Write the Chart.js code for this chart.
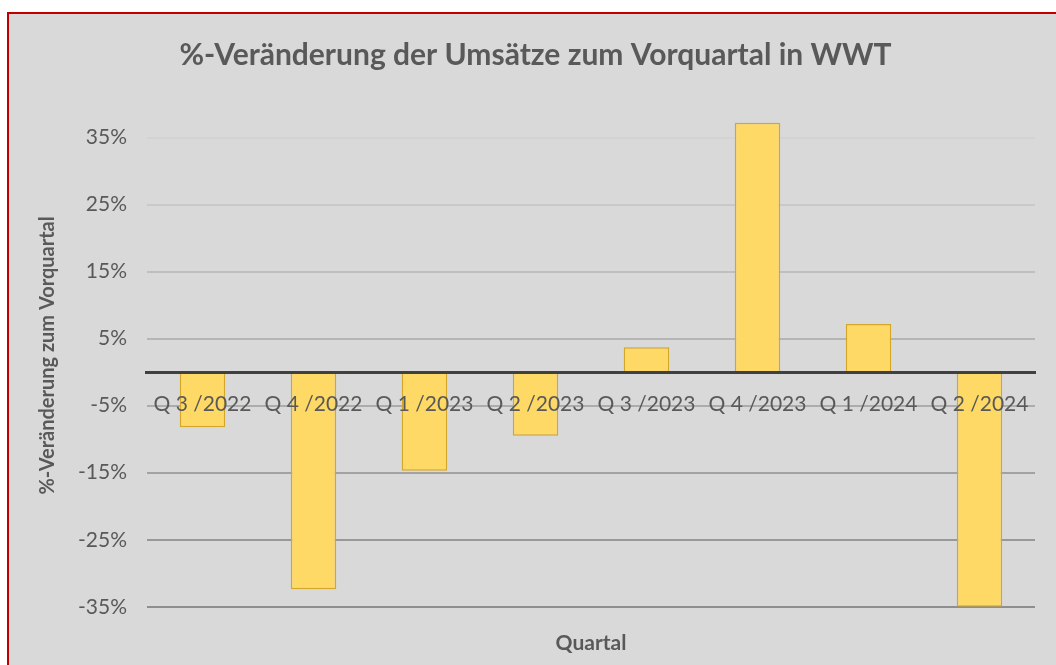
<!DOCTYPE html>
<html>
<head>
<meta charset="utf-8">
<script src="https://cdn.jsdelivr.net/npm/chart.js@4.4.0/dist/chart.umd.min.js"></script>
<style>
	html, body { margin: 0; padding: 0; background: #ffffff; overflow: hidden; }
	#frame {
		position: absolute; left: 7px; top: 12px;
		width: 1060px; height: 670px;
		border: 2px solid #c00000;
		background: #d9d9d9;
	}
	#wrap { position: absolute; left: 0; top: 0; width: 1047px; height: 651px; }
</style>
</head>
<body>
<div id="frame"><div id="wrap"><canvas id="chart-area"></canvas></div></div>
<script>
// Data
var quarters = ['Q 3 /2022', 'Q 4 /2022', 'Q 1 /2023', 'Q 2 /2023', 'Q 3 /2023', 'Q 4 /2023', 'Q 1 /2024', 'Q 2 /2024'];
var changePct = [-8.2, -32.4, -14.7, -9.5, 3.7, 37.2, 7.2, -35.0];
var yTicks = [-35, -25, -15, -5, 5, 15, 25, 35];

var textColor = '#595959';
var fontFamily = 'Lato, "Open Sans", sans-serif';

// gridlines fade from dark (bottom) to light (top)
function gridColor(ctx) {
	var v = ctx.tick ? ctx.tick.value : 0;
	var t = (v + 35) / 70;
	var c = Math.round(0x8e + t * (0xd3 - 0x8e));
	return 'rgb(' + c + ',' + c + ',' + c + ')';
}

var config = {
	type: 'bar',
	data: {
		labels: quarters,
		datasets: [{
			data: changePct,
			backgroundColor: '#ffd966',
			borderColor: '#d4a62a',
			borderWidth: 1.5,
			barPercentage: 0.41,
			categoryPercentage: 1.0
		}]
	},
	options: {
		responsive: true,
		maintainAspectRatio: false,
		animation: false,
		layout: { padding: { left: 27, right: 21, top: 23, bottom: 9 } },
		plugins: {
			legend: { display: false },
			tooltip: { enabled: false },
			title: {
				display: true,
				text: '%-Veränderung der Umsätze zum Vorquartal in WWT',
				color: textColor,
				font: { family: fontFamily, size: 30, weight: 'bold' },
				padding: { top: 0, bottom: 31 }
			}
		},
		scales: {
			y: {
				min: -35,
				max: 40,
				afterBuildTicks: function (scale) {
					scale.ticks = yTicks.map(function (v) { return { value: v }; });
				},
				ticks: {
					color: textColor,
					font: { family: fontFamily, size: 21 },
					padding: 20,
					callback: function (v) { return v + '%'; }
				},
				grid: { color: gridColor, lineWidth: 2, drawTicks: false },
				border: { display: false },
				title: {
					display: true,
					text: '%-Veränderung zum Vorquartal',
					color: textColor,
					font: { family: fontFamily, size: 20, weight: 'bold' },
					padding: { top: 0, bottom: -2 }
				}
			},
			x: {
				position: { y: 0 },
				ticks: {
					z: 1,
					color: textColor,
					font: { family: fontFamily, size: 21 },
					padding: 11,
					maxRotation: 0,
					autoSkip: false
				},
				grid: { display: false },
				border: { display: true, color: '#404040', width: 3, z: 1 }
			},
			x2: {
				type: 'category',
				labels: quarters,
				position: 'bottom',
				ticks: { display: false },
				grid: { display: false, drawTicks: false },
				border: { display: false },
				title: {
					display: true,
					text: 'Quartal',
					color: textColor,
					font: { family: fontFamily, size: 21, weight: 'bold' },
					padding: { top: 24, bottom: 0 }
				}
			}
		}
	}
};

var ctx = document.getElementById('chart-area').getContext('2d');
var myBarChart = new Chart(ctx, config);
</script>
</body>
</html>
